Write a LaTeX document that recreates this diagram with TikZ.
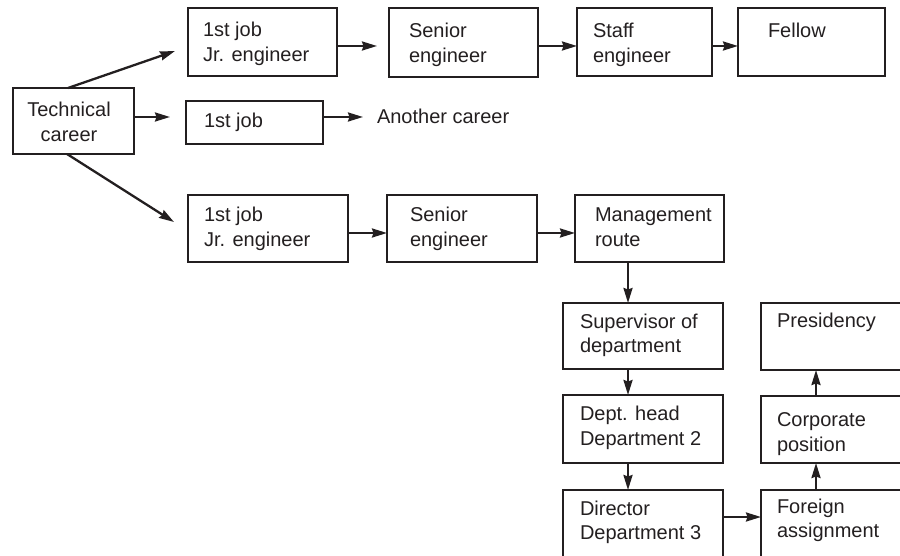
\documentclass[tikz,border=0pt]{standalone}
\usepackage{fontspec}
\setmainfont{Liberation Sans}
\usetikzlibrary{arrows.meta}

\definecolor{ink}{HTML}{231F20}

% two stacked lines, baseline on the first one
\newcommand\twolines[3][l]{\begin{tabular}[t]{@{}#1@{}}#2\\#3\end{tabular}}

\tikzset{
  box/.style={draw=ink, line width=2.7pt, rectangle, inner sep=0pt, outer sep=0pt, anchor=north west},
  lbl/.style={anchor=base west, inner sep=0pt, outer sep=0pt, text=ink,
              font=\fontsize{20}{24.5}\selectfont},
  arr/.style={draw=ink, line width=2.3pt, -{Stealth[length=15pt,width=9pt,inset=1.5pt]}},
}

\begin{document}
\begin{tikzpicture}[x=1pt,y=-1pt]
\useasboundingbox (0,0) rectangle (900,556);
\clip (0,0) rectangle (900,556);

% ---- boxes ----
\node[box, minimum width=121pt, minimum height=66pt] (tech)    at (13,88)   {};
\node[box, minimum width=149pt, minimum height=68pt] (jr1)     at (188,8)   {};
\node[box, minimum width=149pt, minimum height=69pt] (sen1)    at (389,8)   {};
\node[box, minimum width=135pt, minimum height=68pt] (staff)   at (577,8)   {};
\node[box, minimum width=147pt, minimum height=68pt] (fellow)  at (738,8)   {};
\node[box, minimum width=137pt, minimum height=43pt] (mid)     at (186,101) {};
\node[box, minimum width=160pt, minimum height=67pt] (jr2)     at (188,195) {};
\node[box, minimum width=150pt, minimum height=67pt] (sen2)    at (387,195) {};
\node[box, minimum width=149pt, minimum height=67pt] (mgmt)    at (575,195) {};
\node[box, minimum width=160pt, minimum height=66pt] (sup)     at (563,303) {};
\node[box, minimum width=160pt, minimum height=68pt] (dept)    at (563,395) {};
\node[box, minimum width=160pt, minimum height=80pt] (dir)     at (563,490) {};
\node[box, minimum width=180pt, minimum height=67pt] (pres)    at (761,303) {};
\node[box, minimum width=180pt, minimum height=67pt] (corp)    at (761,396) {};
\node[box, minimum width=180pt, minimum height=80pt] (foreign) at (761,490) {};

% ---- texts ----
\node[lbl, anchor=base] (techt) at (69,116.7) {\twolines[c]{Technical}{career}};
\node[lbl] (jr1t)     at (203,36.7)  {\twolines{1st job}{Jr. engineer}};
\node[lbl] (sen1t)    at (409,37.7)  {\twolines{Senior}{engineer}};
\node[lbl] (stafft)   at (593,37.7)  {\twolines{Staff}{engineer}};
\node[lbl] (fellowt)  at (768,38)    {Fellow};
\node[lbl] (midt)     at (204,128)   {1st job};
\node[lbl] (other)    at (377,124)   {Another career};
\node[lbl] (jr2t)     at (204,222)   {\twolines{1st job}{Jr. engineer}};
\node[lbl] (sen2t)    at (410,221.7) {\twolines{Senior}{engineer}};
\node[lbl] (mgmtt)    at (595,221.7) {\twolines{Management}{route}};
\node[lbl] (supt)     at (580,328.3) {\twolines{Supervisor of}{department}};
\node[lbl] (deptt)    at (580,420.7) {\twolines{Dept. head}{Department 2}};
\node[lbl] (dirt)     at (580,515)   {\twolines{Director}{Department 3}};
\node[lbl] (prest)    at (777,327)   {Presidency};
\node[lbl] (corpt)    at (777,426.7) {\twolines{Corporate}{position}};
\node[lbl] (foreignt) at (777,513.3) {\twolines{Foreign}{assignment}};

% ---- connectors ----
\draw[arr] ([xshift=-5.5pt]tech.north) -- ([xshift=-13pt,yshift=-9pt]jr1.west);
\draw[arr] ([yshift=4pt]tech.east) -- ([xshift=-16pt,yshift=5.5pt]mid.west);
\draw[arr] ([xshift=-6.5pt]tech.south) -- ([xshift=-14pt,yshift=6.5pt]jr2.west);

\draw[arr] ([yshift=-4pt]jr1.east) -- ([xshift=-12pt,yshift=-3.5pt]sen1.west);
\draw[arr] ([yshift=-3.5pt]sen1.east) -- ([yshift=-4pt]staff.west);
\draw[arr] ([yshift=-4pt]staff.east) -- ([yshift=-4pt]fellow.west);

\draw[arr, shorten >=14pt] ([yshift=5.5pt]mid.east) -- ([yshift=5.5pt]mid.east -| other.west);

\draw[arr] ([yshift=-4.5pt]jr2.east) -- ([yshift=-4.5pt]sen2.west);
\draw[arr] ([yshift=-4.5pt]sen2.east) -- ([yshift=-4.5pt]mgmt.west);

\draw[arr] ([xshift=-21.5pt]mgmt.south) -- ([xshift=-15pt]sup.north);
\draw[arr] ([xshift=-15pt]sup.south) -- ([xshift=-15pt]dept.north);
\draw[arr] ([xshift=-15pt]dept.south) -- ([xshift=-15pt]dir.north);

\draw[arr] ([yshift=-27pt]dir.north east) -- ([yshift=-27pt]foreign.north west);
\draw[arr] ([xshift=55pt]foreign.north west) -- ([xshift=55pt]corp.south west);
\draw[arr] ([xshift=55pt]corp.north west) -- ([xshift=55pt]pres.south west);
\end{tikzpicture}
\end{document}
